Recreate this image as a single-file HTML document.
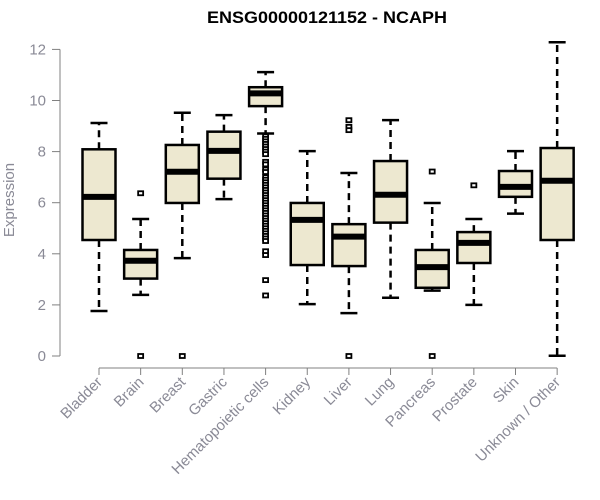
<!DOCTYPE html>
<html><head><meta charset="utf-8"><style>
body{margin:0;background:#fff;}
svg{display:block;font-family:"Liberation Sans",Arial,sans-serif;}
</style></head><body>
<svg id="chart" width="600" height="500">
<text x="327" y="23" text-anchor="middle" font-weight="bold" font-size="17" textLength="240" lengthAdjust="spacingAndGlyphs" fill="#000">ENSG00000121152 - NCAPH</text>
<text transform="translate(14,200) rotate(-90)" text-anchor="middle" font-size="15" fill="#8a8a96">Expression</text>
<g id="axes"></g><g id="boxes"></g>
</svg>
<script>
const categories=["Bladder","Brain","Breast","Gastric","Hematopoietic cells","Kidney","Liver","Lung","Pancreas","Prostate","Skin","Unknown / Other"];
const lowerWhisker=[1.76,2.39,3.83,6.14,8.71,2.03,1.68,2.28,2.56,2.0,5.57,0.01];
const q1=[4.54,3.03,5.99,6.94,9.78,3.56,3.52,5.22,2.67,3.64,6.23,4.54];
const median=[6.23,3.73,7.21,8.03,10.28,5.33,4.67,6.31,3.48,4.43,6.62,6.86];
const q3=[8.09,4.15,8.26,8.78,10.52,5.99,5.16,7.63,4.15,4.85,7.24,8.14];
const upperWhisker=[9.12,5.36,9.52,9.43,11.11,8.02,7.16,9.23,5.99,5.36,8.02,12.28];
const outliers=[[],[6.37,0],[0],[],[8.6,8.5,8.4,8.3,8.2,8.1,8.0,7.9,7.6,7.5,7.3,7.2,7.0,6.9,6.8,6.7,6.6,6.5,6.4,6.3,6.2,6.1,6.0,5.9,5.8,5.7,5.6,5.5,5.4,5.3,5.2,5.1,5.0,4.9,4.8,4.7,4.6,4.5,4.1,3.95,2.97,2.37],[],[9.23,8.97,8.84,0],[],[7.22,0],[6.68],[],[]];
const yTicks=[0,2,4,6,8,10,12];
const NS="http://www.w3.org/2000/svg";
const y=v=>356-v*25.55;
const x=i=>99+i*41.65;
function mk(tag,attrs,parent){const e=document.createElementNS(NS,tag);for(const k in attrs)e.setAttribute(k,attrs[k]);parent.appendChild(e);return e;}
const ax=document.getElementById('axes'),bx=document.getElementById('boxes');
const gray="#808080";
let yl=mk('line',{x1:60,y1:y(12),x2:60,y2:y(0),stroke:gray},ax);


yTicks.forEach(t=>{
 let tk=mk('line',{x1:52,x2:60,y1:y(t),y2:y(t),stroke:gray},ax);
 
 
 let tl=mk('text',{x:46,y:y(t)+5,'text-anchor':'end','font-size':15,fill:"#8a8a96"},ax);
 tl.textContent=t;
 
 
});
let xl=mk('line',{x1:x(0),x2:x(categories.length-1),y1:368,y2:368,stroke:gray},ax);


categories.forEach((c,i)=>{
 const cx=x(i);
 let tk=mk('line',{x1:cx,x2:cx,y1:368,y2:375,stroke:gray},ax);
 
 
 let tl=mk('text',{transform:`translate(${cx+4},${383}) rotate(-45)`,'text-anchor':'end','font-size':15,fill:"#8a8a96"},ax);
 tl.textContent=c;
 
 
 const g=mk('g',{},bx);
 
 
 const dash={stroke:'#000','stroke-width':2.5,'stroke-dasharray':'7,5'};
 mk('line',Object.assign({x1:cx,x2:cx,y1:y(q3[i]),y2:y(upperWhisker[i])},dash),g);
 mk('line',Object.assign({x1:cx,x2:cx,y1:y(q1[i]),y2:y(lowerWhisker[i])},dash),g);
 mk('line',{x1:cx-8.5,x2:cx+8.5,y1:y(upperWhisker[i]),y2:y(upperWhisker[i]),stroke:'#000','stroke-width':2.5},g);
 mk('line',{x1:cx-8.5,x2:cx+8.5,y1:y(lowerWhisker[i]),y2:y(lowerWhisker[i]),stroke:'#000','stroke-width':2.5},g);
 mk('rect',{x:cx-16.5,y:y(q3[i]),width:33,height:y(q1[i])-y(q3[i]),fill:'#ede8d0',stroke:'#000','stroke-width':2.5},g);
 mk('line',{x1:cx-16.5,x2:cx+16.5,y1:y(median[i]),y2:y(median[i]),stroke:'#000','stroke-width':6},g);
 outliers[i].forEach(o=>{
  let p=mk('rect',{x:cx-2.5,y:y(o)-2,width:5,height:4,fill:'#fff',stroke:'#000','stroke-width':1.8},g);
  
  
 });
});
</script>
</body></html>
